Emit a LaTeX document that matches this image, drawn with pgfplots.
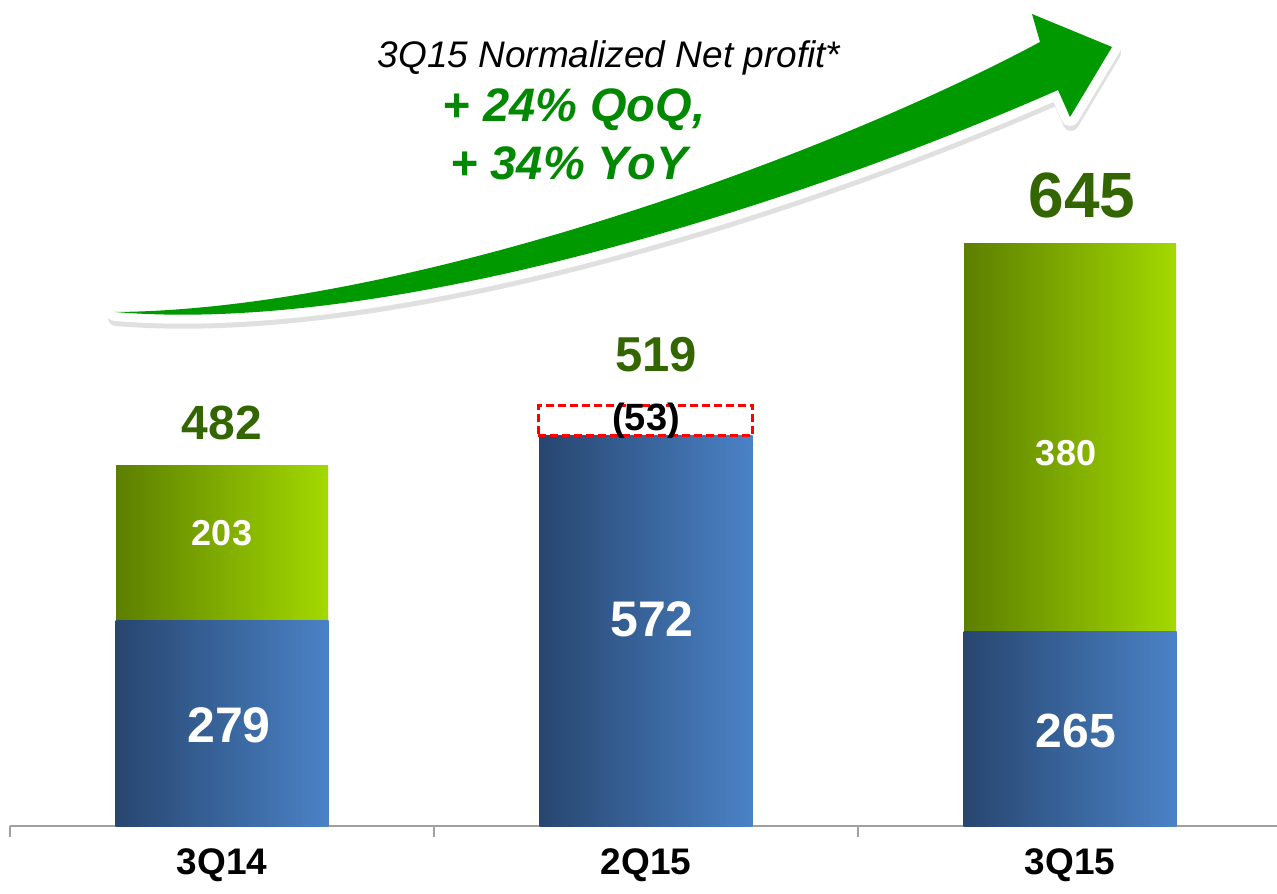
\documentclass[border=0pt]{standalone}
\usepackage{pgfplots}
\pgfplotsset{compat=1.18}
\usepackage{fontspec}
\setmainfont{Liberation Sans}
\definecolor{blueL}{HTML}{27466F}
\definecolor{blueR}{HTML}{4A82C6}
\definecolor{grnL}{HTML}{5C7F00}
\definecolor{grnR}{HTML}{A3D900}
\definecolor{valgreen}{HTML}{336600}
\definecolor{arrowgreen}{HTML}{009900}
\definecolor{txtgreen}{HTML}{008800}
\definecolor{axisgray}{HTML}{A0A0A0}
\newcommand{\fs}[1]{\fontsize{#1}{#1}\selectfont}
\begin{document}
\begin{tikzpicture}
\path[use as bounding box] (0,0) rectangle (638.5pt,446.5pt);
\begin{axis}[
  at={(5pt,33.5pt)}, anchor=south west,
  scale only axis, width=636pt, height=413pt,
  xmin=-0.5, xmax=2.5, ymin=0, ymax=1124,
  axis y line=none, axis x line=bottom,
  x axis line style={-, draw=axisgray, line width=1pt},
  xtick={-0.5,0.5,1.5,2.5}, xticklabels={},
  tick align=outside, major tick length=5.5pt,
  x tick style={draw=axisgray, line width=0.8pt},
  extra x ticks={0,1,2},
  extra x tick labels={3Q14,2Q15,3Q15},
  extra x tick style={major tick length=0pt,
    tick label style={font=\bfseries\fs{18.5}, anchor=center, yshift=-19.5pt}},
  clip=false,
  greenbar/.style={ybar, bar width=106pt, bar shift=0pt, draw=none, left color=grnL, right color=grnR},
  bluebar/.style={ybar, bar width=106.5pt, bar shift=0pt, draw=none, left color=blueL, right color=blueR},
]
% green segments drawn as full-height bars (stack total), blue drawn on top
\addplot[greenbar] coordinates {(0,491)};
\addplot[greenbar] coordinates {(2,793)};
\addplot[bluebar] coordinates {(0,279)};
\addplot[bluebar] coordinates {(1,531)};
\addplot[bluebar] coordinates {(2,264)};
% dashed adjustment box for 2Q15
\addplot[draw=red, line width=1.4pt, dash pattern=on 4pt off 2pt, mark=none]
  coordinates {(0.746,531) (1.252,531) (1.252,572) (0.746,572) (0.746,531)};
\end{axis}
\begin{scope}[x=0.5pt,y=-0.5pt,shift={(0,446.5pt)}]
  \def\arrowpath{(115,312) .. controls (400,310) and (820,160) .. (1040,42) -- (1032,14) -- (1112,47) -- (1070,117) -- (1058,90) .. controls (820,195) and (400,336) .. (115,312) -- cycle}
  \draw[black, opacity=0.12, line width=8pt, line join=round, shift={(1,6)}] \arrowpath;
  \draw[white, line width=9pt, line join=round] \arrowpath;
  \fill[arrowgreen] \arrowpath;
  % headline texts
  \node[anchor=base, inner sep=0pt] at (609,68) {\itshape\fs{18.5}3Q15 Normalized Net profit*};
  \node[anchor=base, inner sep=0pt, text=txtgreen] at (574,122) {\bfseries\itshape\fs{23.5}+ 24\% QoQ,};
  \node[anchor=base, inner sep=0pt, text=txtgreen] at (569,180) {\bfseries\itshape\fs{23.5}+ 34\% YoY};
  % totals
  \node[text=valgreen, font=\bfseries\fs{24}] at (222,423) {482};
  \node[text=valgreen, font=\bfseries\fs{24.5}] at (656,355) {519};
  \node[text=valgreen, font=\bfseries\fs{32}] at (1082,195) {645};
  % segment values
  \node[text=white, font=\bfseries\fs{18}] at (222,533) {203};
  \node[text=white, font=\bfseries\fs{25}] at (229,725) {279};
  \node[text=white, font=\bfseries\fs{25}] at (652,619) {572};
  \node[text=black, font=\bfseries\fs{19}] at (646,421) {(53)};
  \node[text=white, font=\bfseries\fs{18}] at (1066,453) {380};
  \node[text=white, font=\bfseries\fs{24}] at (1076,731) {265};
\end{scope}
\end{tikzpicture}
\end{document}
